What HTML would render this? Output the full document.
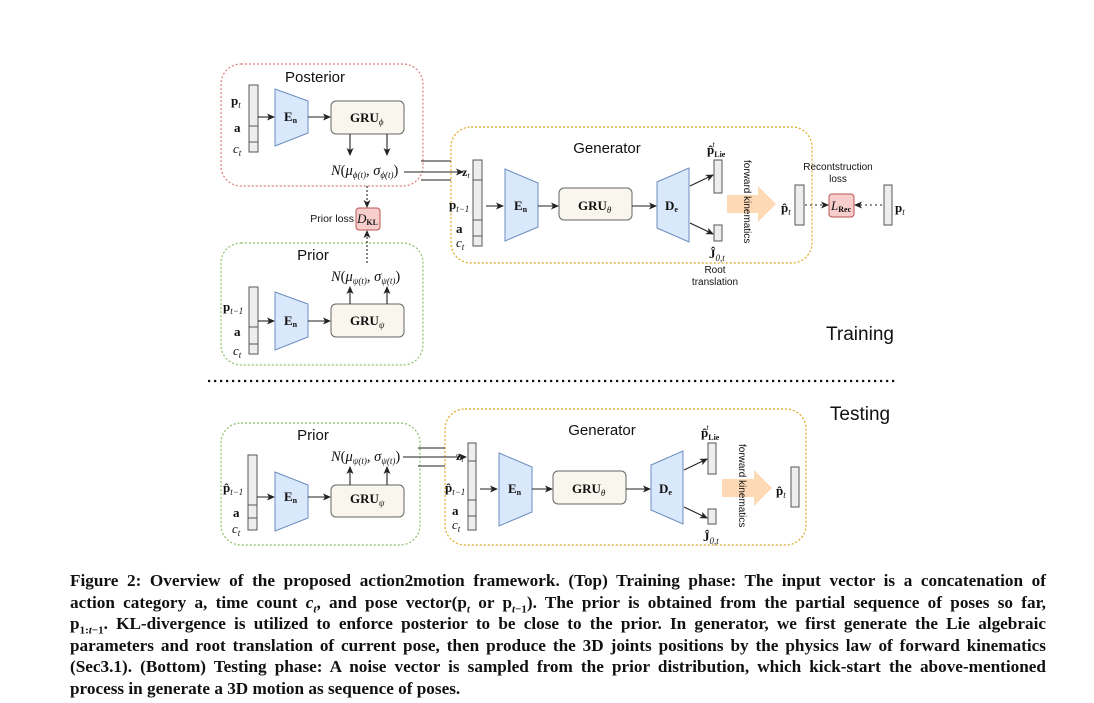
<!DOCTYPE html>
<html><head><meta charset="utf-8"><style>
body{margin:0;width:1094px;height:703px;background:#fff;position:relative;overflow:hidden}
svg{position:absolute;left:0;top:0}
.cap{position:absolute;left:70px;top:570px;width:976px;font-family:"Liberation Serif",serif;font-weight:bold;font-size:17.2px;line-height:21.6px;color:#111}
.cap div{text-align:justify;text-align-last:justify;white-space:nowrap;height:21.6px}
.cap div.last{text-align-last:left}
.cap sub{line-height:0;font-size:11px}
</style></head><body>
<svg width="1094" height="703" viewBox="0 0 1094 703" font-family="Liberation Sans, sans-serif">
<defs>
<marker id="ar" markerWidth="8" markerHeight="8" refX="7" refY="4" orient="auto" markerUnits="userSpaceOnUse"><path d="M0,0.5 L8,4 L0,7.5 L2,4 Z" fill="#222"/></marker>
</defs>
<g stroke-width="1.2" fill="none">
<rect x="221" y="64" width="202" height="122" rx="20" stroke="#e07b7b" stroke-dasharray="2,2"/>
<rect x="221" y="243" width="202" height="122" rx="20" stroke="#8ac06a" stroke-dasharray="2,2"/>
<rect x="451" y="127" width="361" height="136" rx="20" stroke="#e0a820" stroke-dasharray="2,2"/>
<rect x="221" y="423" width="199" height="122" rx="20" stroke="#8ac06a" stroke-dasharray="2,2"/>
<rect x="445" y="409" width="361" height="136" rx="20" stroke="#e0a820" stroke-dasharray="2,2"/>
</g>
<g font-family="Liberation Sans, sans-serif" fill="#111">
<text x="315" y="82" font-size="15" text-anchor="middle">Posterior</text>
<text x="313" y="260" font-size="15" text-anchor="middle">Prior</text>
<text x="607" y="153" font-size="15" text-anchor="middle">Generator</text>
<text x="313" y="440" font-size="15" text-anchor="middle">Prior</text>
<text x="602" y="435" font-size="15" text-anchor="middle">Generator</text>
<text x="860" y="340" font-size="19" text-anchor="middle">Training</text>
<text x="860" y="420" font-size="19" text-anchor="middle">Testing</text>
<text x="354" y="222" font-size="10.5" text-anchor="end">Prior loss</text>
<text x="838" y="170" font-size="10" text-anchor="middle">Recontstruction</text>
<text x="838" y="182" font-size="10" text-anchor="middle">loss</text>
<text x="715" y="273" font-size="10" text-anchor="middle">Root</text>
<text x="715" y="285" font-size="10" text-anchor="middle">translation</text>
</g>
<line x1="208" y1="381" x2="898" y2="381" stroke="#111" stroke-width="2.2" stroke-dasharray="2.2,3.8"/>
<g stroke="#555" stroke-width="1" fill="#eee">
<rect x="249" y="85" width="9" height="67"/><line x1="249" y1="126" x2="258" y2="126"/><line x1="249" y1="142" x2="258" y2="142"/>
<path d="M275,89 L308,101 L308,133 L275,146 Z" fill="#dae8fc" stroke="#6c8ebf"/>
<rect x="331" y="101" width="73" height="33" rx="5" fill="#f9f7ed" stroke="#666"/>
<rect x="249" y="287" width="9" height="67"/><line x1="249" y1="327" x2="258" y2="327"/><line x1="249" y1="344" x2="258" y2="344"/>
<path d="M275,292 L308,304 L308,337 L275,350 Z" fill="#dae8fc" stroke="#6c8ebf"/>
<rect x="331" y="304" width="73" height="33" rx="5" fill="#f9f7ed" stroke="#666"/>
<rect x="356" y="208" width="24" height="22" rx="3" fill="#f8cecc" stroke="#b85450"/>
<rect x="473" y="160" width="9" height="86"/><line x1="473" y1="180" x2="482" y2="180"/><line x1="473" y1="220" x2="482" y2="220"/><line x1="473" y1="236" x2="482" y2="236"/>
<path d="M505,169 L538,183 L538,227 L505,241 Z" fill="#dae8fc" stroke="#6c8ebf"/>
<rect x="559" y="188" width="73" height="32" rx="5" fill="#f9f7ed" stroke="#666"/>
<path d="M657,182 L689,168 L689,242 L657,228 Z" fill="#dae8fc" stroke="#6c8ebf"/>
<rect x="714" y="160" width="8" height="33"/><rect x="714" y="225" width="8" height="16"/>
<rect x="795" y="185" width="9" height="40"/>
<rect x="829" y="194" width="25" height="23" rx="3" fill="#f8cecc" stroke="#b85450"/>
<rect x="884" y="185" width="8" height="40"/>
<rect x="248" y="455" width="9" height="75"/><line x1="248" y1="505" x2="257" y2="505"/><line x1="248" y1="518" x2="257" y2="518"/>
<path d="M275,472 L308,485 L308,518 L275,531 Z" fill="#dae8fc" stroke="#6c8ebf"/>
<rect x="331" y="485" width="73" height="32" rx="5" fill="#f9f7ed" stroke="#666"/>
<rect x="468" y="443" width="8" height="87"/><line x1="468" y1="461" x2="476" y2="461"/><line x1="468" y1="500" x2="476" y2="500"/><line x1="468" y1="516" x2="476" y2="516"/>
<path d="M499,453 L532,467 L532,512 L499,526 Z" fill="#dae8fc" stroke="#6c8ebf"/>
<rect x="553" y="471" width="73" height="33" rx="5" fill="#f9f7ed" stroke="#666"/>
<path d="M651,465 L683,451 L683,524 L651,510 Z" fill="#dae8fc" stroke="#6c8ebf"/>
<rect x="708" y="443" width="8" height="31"/><rect x="708" y="509" width="8" height="15"/>
<rect x="791" y="467" width="8" height="40"/>
</g>
<path d="M727,195 L758,195 L758,186 L776,204 L758,222 L758,213 L727,213 Z" fill="#fdd9b5"/>
<path d="M722,479 L754,479 L754,470 L772,488 L754,506 L754,497 L722,497 Z" fill="#fdd9b5"/>
<g font-size="10" fill="#111" font-family="Liberation Sans, sans-serif">
<text transform="translate(744,160) rotate(90)">forward kinematics</text>
<text transform="translate(739,444) rotate(90)">forward kinematics</text>
</g>
<g stroke="#222" stroke-width="1.1" fill="none" marker-end="url(#ar)">
<line x1="258" y1="117" x2="274" y2="117"/>
<line x1="308" y1="117" x2="330" y2="117"/>
<line x1="350" y1="134" x2="350" y2="155"/>
<line x1="387" y1="134" x2="387" y2="155"/>
<line x1="258" y1="321" x2="274" y2="321"/>
<line x1="308" y1="321" x2="330" y2="321"/>
<line x1="350" y1="304" x2="350" y2="287"/>
<line x1="387" y1="304" x2="387" y2="287"/>
<line x1="367" y1="186" x2="367" y2="207" stroke-dasharray="2,2"/>
<line x1="367" y1="263" x2="367" y2="231" stroke-dasharray="2,2"/>
<line x1="404" y1="172" x2="463" y2="172"/>
<line x1="486" y1="206" x2="503" y2="206"/>
<line x1="538" y1="206" x2="558" y2="206"/>
<line x1="632" y1="206" x2="656" y2="206"/>
<line x1="690" y1="186" x2="713" y2="175"/>
<line x1="690" y1="223" x2="713" y2="234"/>
<line x1="805" y1="205" x2="828" y2="205" stroke-dasharray="2,3"/>
<line x1="882" y1="205" x2="855" y2="205" stroke-dasharray="2,3"/>
<line x1="257" y1="497" x2="274" y2="497"/>
<line x1="308" y1="497" x2="330" y2="497"/>
<line x1="350" y1="485" x2="350" y2="467"/>
<line x1="387" y1="485" x2="387" y2="467"/>
<line x1="403" y1="457" x2="466" y2="457"/>
<line x1="480" y1="489" x2="497" y2="489"/>
<line x1="532" y1="489" x2="552" y2="489"/>
<line x1="626" y1="489" x2="650" y2="489"/>
<line x1="684" y1="470" x2="707" y2="459"/>
<line x1="684" y1="507" x2="707" y2="518"/>
</g>
<g stroke="#222" stroke-width="1.1">
<line x1="421" y1="161" x2="451" y2="161"/><line x1="421" y1="180" x2="451" y2="180"/>
<line x1="418" y1="448" x2="445" y2="448"/><line x1="418" y1="466" x2="445" y2="466"/>
</g>
<g font-family="Liberation Serif, serif" fill="#111" font-size="13">
<text x="231" y="105" font-weight="bold">p<tspan font-size="9" font-style="italic" font-weight="normal" dy="3">t</tspan></text>
<text x="234" y="132" font-weight="bold">a</text>
<text x="233" y="153" font-style="italic">c<tspan font-size="9" dy="3">t</tspan></text>
<text x="284" y="121" font-weight="bold">E<tspan font-size="8" dy="2">n</tspan></text>
<text x="350" y="122" font-weight="bold">GRU<tspan font-size="9" font-style="italic" font-weight="normal" dy="3">ϕ</tspan></text>
<text x="331" y="175" font-style="italic" font-size="14.5">N<tspan font-style="normal">(</tspan>μ<tspan font-size="9" dy="3">ϕ(t)</tspan><tspan dy="-3">, σ</tspan><tspan font-size="9" dy="3">ϕ(t)</tspan><tspan dy="-3" font-style="normal">)</tspan></text>
<text x="357" y="223" font-style="italic">D<tspan font-size="8" font-weight="bold" font-style="normal" dy="2">KL</tspan></text>
<text x="223" y="311" font-weight="bold">p<tspan font-size="9" font-style="italic" font-weight="normal" dy="3">t−1</tspan></text>
<text x="234" y="336" font-weight="bold">a</text>
<text x="233" y="355" font-style="italic">c<tspan font-size="9" dy="3">t</tspan></text>
<text x="284" y="325" font-weight="bold">E<tspan font-size="8" dy="2">n</tspan></text>
<text x="350" y="325" font-weight="bold">GRU<tspan font-size="9" font-style="italic" font-weight="normal" dy="3">ψ</tspan></text>
<text x="331" y="281" font-style="italic" font-size="14.5">N<tspan font-style="normal">(</tspan>μ<tspan font-size="9" dy="3">ψ(t)</tspan><tspan dy="-3">, σ</tspan><tspan font-size="9" dy="3">ψ(t)</tspan><tspan dy="-3" font-style="normal">)</tspan></text>
<text x="462" y="176" font-weight="bold" font-size="12">z<tspan font-size="8" font-style="italic" font-weight="normal" dy="2">t</tspan></text>
<text x="449" y="209" font-weight="bold">p<tspan font-size="9" font-style="italic" font-weight="normal" dy="3">t−1</tspan></text>
<text x="456" y="233" font-weight="bold">a</text>
<text x="456" y="247" font-style="italic">c<tspan font-size="9" dy="3">t</tspan></text>
<text x="514" y="210" font-weight="bold">E<tspan font-size="8" dy="2">n</tspan></text>
<text x="578" y="210" font-weight="bold">GRU<tspan font-size="9" font-style="italic" font-weight="normal" dy="3">θ</tspan></text>
<text x="665" y="210" font-weight="bold">D<tspan font-size="8" dy="2">e</tspan></text>
<text x="707" y="154" font-weight="bold">p̂<tspan font-size="8" font-weight="bold" dy="3">Lie</tspan><tspan font-size="8" font-style="italic" font-weight="normal" dx="-13" dy="-10">t</tspan></text>
<text x="709" y="258" font-weight="bold">Ĵ<tspan font-size="9" font-style="italic" font-weight="normal" dy="3">0,t</tspan></text>
<text x="781" y="212" font-weight="bold">p̂<tspan font-size="9" font-style="italic" font-weight="normal" dy="3">t</tspan></text>
<text x="831" y="210" font-style="italic">L<tspan font-size="8" font-weight="bold" font-style="normal" dy="2">Rec</tspan></text>
<text x="895" y="212" font-weight="bold">p<tspan font-size="9" font-style="italic" font-weight="normal" dy="3">t</tspan></text>
<text x="223" y="492" font-weight="bold">p̂<tspan font-size="9" font-style="italic" font-weight="normal" dy="3">t−1</tspan></text>
<text x="233" y="517" font-weight="bold">a</text>
<text x="232" y="533" font-style="italic">c<tspan font-size="9" dy="3">t</tspan></text>
<text x="284" y="501" font-weight="bold">E<tspan font-size="8" dy="2">n</tspan></text>
<text x="350" y="503" font-weight="bold">GRU<tspan font-size="9" font-style="italic" font-weight="normal" dy="3">ψ</tspan></text>
<text x="331" y="461" font-style="italic" font-size="14.5">N<tspan font-style="normal">(</tspan>μ<tspan font-size="9" dy="3">ψ(t)</tspan><tspan dy="-3">, σ</tspan><tspan font-size="9" dy="3">ψ(t)</tspan><tspan dy="-3" font-style="normal">)</tspan></text>
<text x="456" y="460" font-weight="bold" font-size="12">z<tspan font-size="8" font-style="italic" font-weight="normal" dy="2">t</tspan></text>
<text x="445" y="492" font-weight="bold">p̂<tspan font-size="9" font-style="italic" font-weight="normal" dy="3">t−1</tspan></text>
<text x="452" y="515" font-weight="bold">a</text>
<text x="452" y="529" font-style="italic">c<tspan font-size="9" dy="3">t</tspan></text>
<text x="508" y="493" font-weight="bold">E<tspan font-size="8" dy="2">n</tspan></text>
<text x="572" y="493" font-weight="bold">GRU<tspan font-size="9" font-style="italic" font-weight="normal" dy="3">θ</tspan></text>
<text x="659" y="493" font-weight="bold">D<tspan font-size="8" dy="2">e</tspan></text>
<text x="701" y="437" font-weight="bold">p̂<tspan font-size="8" font-weight="bold" dy="3">Lie</tspan><tspan font-size="8" font-style="italic" font-weight="normal" dx="-13" dy="-10">t</tspan></text>
<text x="703" y="541" font-weight="bold">Ĵ<tspan font-size="9" font-style="italic" font-weight="normal" dy="3">0,t</tspan></text>
<text x="776" y="495" font-weight="bold">p̂<tspan font-size="9" font-style="italic" font-weight="normal" dy="3">t</tspan></text>
</g>
</svg>
<div class="cap">
<div>Figure 2: Overview of the proposed action2motion framework. (Top) Training phase: The input vector is a concatenation of</div>
<div>action category a, time count <i>c<sub>t</sub></i>, and pose vector(p<sub><i>t</i></sub> or p<sub><i>t</i>−1</sub>). The prior is obtained from the partial sequence of poses so far,</div>
<div>p<sub>1:<i>t</i>−1</sub>. KL-divergence is utilized to enforce posterior to be close to the prior. In generator, we first generate the Lie algebraic</div>
<div>parameters and root translation of current pose, then produce the 3D joints positions by the physics law of forward kinematics</div>
<div>(Sec3.1). (Bottom) Testing phase: A noise vector is sampled from the prior distribution, which kick-start the above-mentioned</div>
<div class="last">process in generate a 3D motion as sequence of poses.</div>
</div>
</body></html>
